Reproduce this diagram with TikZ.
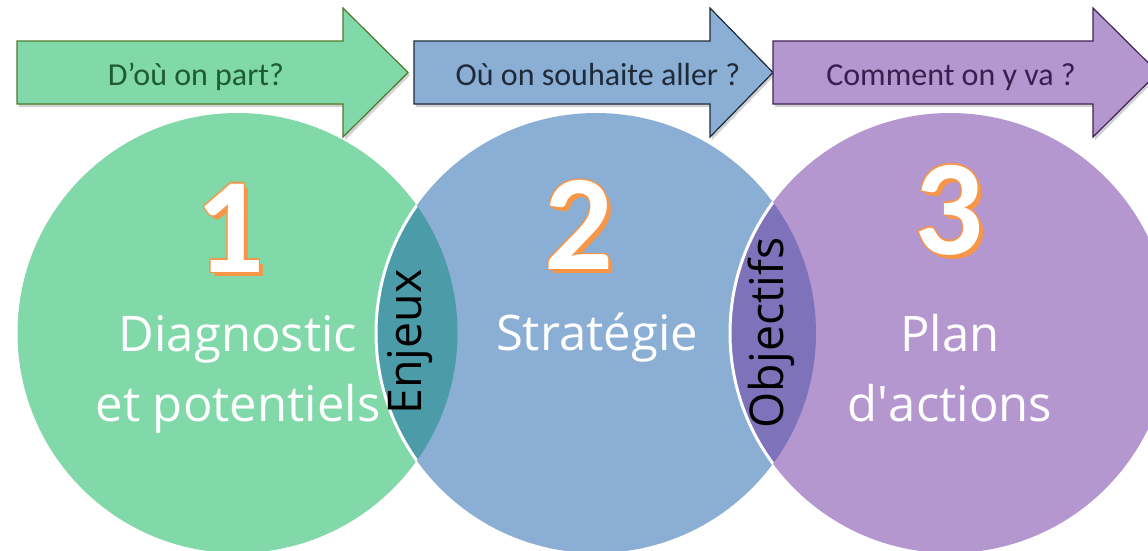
\documentclass[tikz,border=0pt]{standalone}
\usepackage{fontspec}
\setmainfont{Open Sans}
\newfontfamily\calibri{Carlito}
\definecolor{cgreen}{HTML}{81D8A9}
\definecolor{cblue}{HTML}{8BAED4}
\definecolor{cpurple}{HTML}{B597CF}
\definecolor{lteal}{HTML}{4B9BA8}
\definecolor{lviolet}{HTML}{7E72BB}
\definecolor{ogreen}{HTML}{4E7A2A}
\definecolor{oblue}{HTML}{1C2A3A}
\definecolor{opurple}{HTML}{3F2256}
\definecolor{tgreen}{HTML}{1E5C32}
\definecolor{tblue}{HTML}{1F2B3A}
\definecolor{tpurple}{HTML}{3B1E4F}
\definecolor{numorange}{HTML}{F79646}
\tikzset{
  bigcircle/.style={circle, minimum size=440pt, inner sep=0pt},
  arrowshape/.style={line width=1.2pt, line join=miter},
  arrowshadow/.style={fill=black, opacity=0.18},
  arrowtext/.style={font=\calibri\fontsize{32}{38}\selectfont, anchor=base, inner sep=0pt},
  bigtext/.style={font=\fontsize{49}{70}\selectfont, text=white, align=center, anchor=base, inner sep=0pt},
  lenstext/.style={font=\fontsize{46.5}{54}\selectfont, text=black, rotate=90, inner sep=0pt},
  numtxt/.style={font=\calibri\bfseries\fontsize{136}{140}\selectfont, inner sep=0pt},
}
\newcommand\fancynum[3]{%
  \node[numtxt, text=numorange, xshift=4pt, yshift=-4pt] at (#1) {#3};
  \foreach \a in {0,30,...,330}{%
    \node[numtxt, text=numorange, xshift={1.3pt*cos(\a)}, yshift={1.3pt*sin(\a)}] at (#1) {#3};}
  \node[numtxt, text=white] (#2) at (#1) {#3};
}
\begin{document}
\begin{tikzpicture}[x=1pt, y=-1pt]
\useasboundingbox (0,0) rectangle (1148,550);
\clip (0,0) rectangle (1148,550);

% circles
\node[bigcircle, fill=cgreen] (c1) at (237.5,333) {};
\node[bigcircle, fill=cblue] (c2) at (596,333) {};
\begin{scope}
  \clip (c1.center) circle (220pt);
  \fill[lteal] (c2.center) circle (220pt);
  \draw[white, line width=3pt] (c2.center) circle (220pt);
\end{scope}
\node[bigcircle, fill=cpurple] (c3) at (950,333) {};
\begin{scope}
  \clip (c2.center) circle (220pt);
  \fill[lviolet] (c3.center) circle (220pt);
  \draw[white, line width=3pt] (c3.center) circle (220pt);
\end{scope}

% arrows
\fill[arrowshadow] (19,44) -- (345,44) -- (345,11) -- (410,75) -- (345,140) -- (345,107) -- (19,107) -- cycle;
\filldraw[arrowshape, fill=cgreen, draw=ogreen] (17,41) -- (343,41) -- (343,8) -- (408,72.5) -- (343,137) -- (343,104) -- (17,104) -- cycle;
\fill[arrowshadow] (416,44) -- (712,44) -- (712,11) -- (775,75) -- (712,140) -- (712,107) -- (416,107) -- cycle;
\filldraw[arrowshape, fill=cblue, draw=oblue] (414,41) -- (710,41) -- (710,8) -- (773,72.5) -- (710,137) -- (710,104) -- (414,104) -- cycle;
\fill[arrowshadow] (775,44) -- (1095,44) -- (1095,11) -- (1160,75) -- (1095,140) -- (1095,107) -- (775,107) -- cycle;
\filldraw[arrowshape, fill=cpurple, draw=opurple] (773,41) -- (1093,41) -- (1093,8) -- (1158,72.5) -- (1093,137) -- (1093,104) -- (773,104) -- cycle;

\node[arrowtext, text=tgreen] (q1) at (196,85) {D’où on part?};
\node[arrowtext, text=tblue] (q2) at (598,85) {Où on souhaite aller ?};
\node[arrowtext, text=tpurple] (q3) at (951,85) {Comment on y va ?};

% numbers
\fancynum{230,228}{n1}{1}
\fancynum{579,225}{n2}{2}
\fancynum{949,210}{n3}{3}

% main texts (base anchor = baseline of the last line)
\node[bigtext] (t1) at (238,421) {Diagnostic\\et potentiels};
\node[bigtext] (t2) at (597,350) {Stratégie};
\node[bigtext] (t3) at (950,421) {Plan\\d\textquotesingle actions};

% lens texts
\node[lenstext] (l1) at (410,342) {Enjeux};
\node[lenstext] (l2) at (771,333) {Objectifs};
\end{tikzpicture}
\end{document}
